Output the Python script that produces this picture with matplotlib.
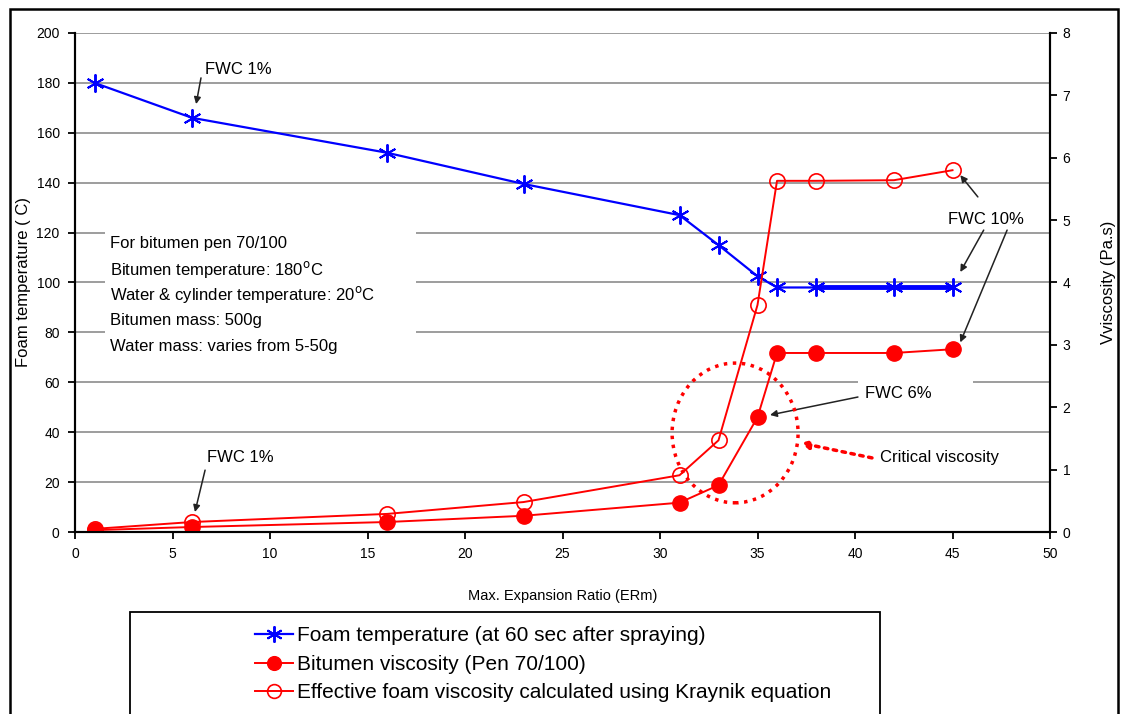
import matplotlib
matplotlib.use("Agg")
import matplotlib.pyplot as plt
from matplotlib.patches import Rectangle, Ellipse

plt.rcParams['font.family'] = ['Liberation Sans', 'DejaVu Sans']

# data
erm = [1, 6, 16, 23, 31, 33, 35, 36, 38, 42, 45]
foam_temp = [180, 166, 152, 139.5, 127, 115, 102.5, 98, 98, 98, 98]
bitumen_visc = [0.03, 0.08, 0.16, 0.26, 0.47, 0.75, 1.84, 2.87, 2.87, 2.87, 2.93]
foam_visc = [0.05, 0.16, 0.29, 0.48, 0.91, 1.47, 3.64, 5.63, 5.63, 5.64, 5.8]

info_lines = ["For bitumen pen 70/100",
              "Bitumen temperature: 180$^{\\rm o}$C",
              "Water & cylinder temperature: 20$^{\\rm o}$C",
              "Bitumen mass: 500g",
              "Water mass: varies from 5-50g"]

fig = plt.figure(figsize=(11.23, 7.14), dpi=100)
ax = fig.add_axes([0.0668, 0.2549, 0.8682, 0.6989])
ax2 = ax.twinx()

# outer frame and legend box
fig.patches.append(Rectangle((10 / 1123, -0.05), 1108 / 1123, 1.05 - 9 / 714,
                             transform=fig.transFigure, fill=False,
                             ec='black', lw=1.8))
fig.patches.append(Rectangle((130 / 1123, -0.05), 750 / 1123, 0.05 + 1 - 612 / 714,
                             transform=fig.transFigure, fill=False,
                             ec='black', lw=1.3))

star = (6, 2, 0)
l1, = ax.plot(erm, foam_temp, color='#0000ff', lw=1.6, marker=star,
              ms=13, mew=1.4, zorder=3)
ax.plot(erm[-3:], foam_temp[-3:], color='#0000ff', lw=3.5, zorder=3)
l2, = ax2.plot(erm, bitumen_visc, color='#ff0000', lw=1.4, marker='o',
               ms=11, mfc='#ff0000', mec='#ff0000')
l3, = ax2.plot(erm, foam_visc, color='#ff0000', lw=1.4, marker='o',
               ms=11, mfc='none', mec='#ff0000', mew=1.2)

ax.set_xlim(0, 50)
ax.set_ylim(0, 200)
ax2.set_ylim(0, 8)
ax.set_xticks(range(0, 51, 5))
ax.set_yticks(range(0, 201, 20))
ax2.set_yticks(range(0, 9))
ax.yaxis.grid(True, color='#8c8c8c', lw=1.2)
ax.set_axisbelow(True)

for a in (ax, ax2):
    a.spines['top'].set_visible(False)
    for s in ('left', 'right', 'bottom'):
        a.spines[s].set_linewidth(1.5)
    a.tick_params(direction='out', length=5, width=1.3, labelsize=10)
ax.tick_params(axis='y', pad=6)
ax.tick_params(axis='x', pad=6)
ax2.tick_params(axis='y', pad=4)

ax.set_xlabel('Max. Expansion Ratio (ERm)', fontsize=10.5, labelpad=20)
ax.set_ylabel('Foam temperature ( C)', fontsize=12, labelpad=4)
ax2.set_ylabel('Vviscosity (Pa.s)', fontsize=12, labelpad=22, rotation=90)

# white boxes behind the texts (they break the grid lines)
ax.add_patch(Rectangle((1.54, 64), 15.95, 59, fc='white', ec='none', zorder=1.8))
ax.add_patch(Rectangle((40.15, 55), 5.9, 8, fc='white', ec='none', zorder=1.8))

for i, t in enumerate(info_lines):
    ax.text(1.8, 115.8 - i * 10.4, t, fontsize=12, va='center', ha='left', zorder=4)

arrow = dict(arrowstyle='-|>', color='#222222', lw=1.1, mutation_scale=10,
             shrinkA=0, shrinkB=0)
ax.text(6.67, 185.2, 'FWC 1%', fontsize=12, va='center')
ax.annotate('', xy=(6.21, 171.5), xytext=(6.46, 182), arrowprops=arrow)
ax.text(6.77, 30, 'FWC 1%', fontsize=12, va='center')
ax.annotate('', xy=(6.15, 8), xytext=(6.67, 24.8), arrowprops=arrow)
ax.text(40.5, 55.7, 'FWC 6%', fontsize=12, va='center')
ax.annotate('', xy=(35.64, 46.9), xytext=(40.15, 54.1), arrowprops=arrow)
ax.text(44.77, 125.1, 'FWC 10%', fontsize=12, va='center')
ax.annotate('', xy=(45.4, 143), xytext=(46.3, 134.3), arrowprops=arrow)
ax.annotate('', xy=(45.4, 104.2), xytext=(46.6, 121), arrowprops=arrow)
ax.annotate('', xy=(45.4, 76), xytext=(47.8, 121), arrowprops=arrow)

# critical viscosity circle
ax.add_patch(Ellipse((33.85, 39.7), 6.46, 56, fill=False, ec='#ff0000',
                     lw=2.5, ls=(0, (1, 1.6)), zorder=4))
ax.text(41.3, 29.7, 'Critical viscosity', fontsize=12, va='center')
ax.annotate('', xy=(37.2, 35.7), xytext=(40.87, 29.7),
            arrowprops=dict(arrowstyle='-|>', color='#ff0000', lw=2.5,
                            ls=(0, (1, 1.6)), mutation_scale=12,
                            shrinkA=0, shrinkB=0))

fig.legend([l1, l2, l3],
           ['Foam temperature (at 60 sec after spraying)',
            'Bitumen viscosity (Pen 70/100)',
            'Effective foam viscosity calculated using Kraynik equation'],
           loc='upper left', bbox_to_anchor=(245 / 1123, 1 - 616 / 714),
           frameon=False, fontsize=15, handlelength=1.8, handletextpad=0.2,
           labelspacing=0.45, borderpad=0, markerscale=0.9)

fig.savefig('out.png', dpi=100)
